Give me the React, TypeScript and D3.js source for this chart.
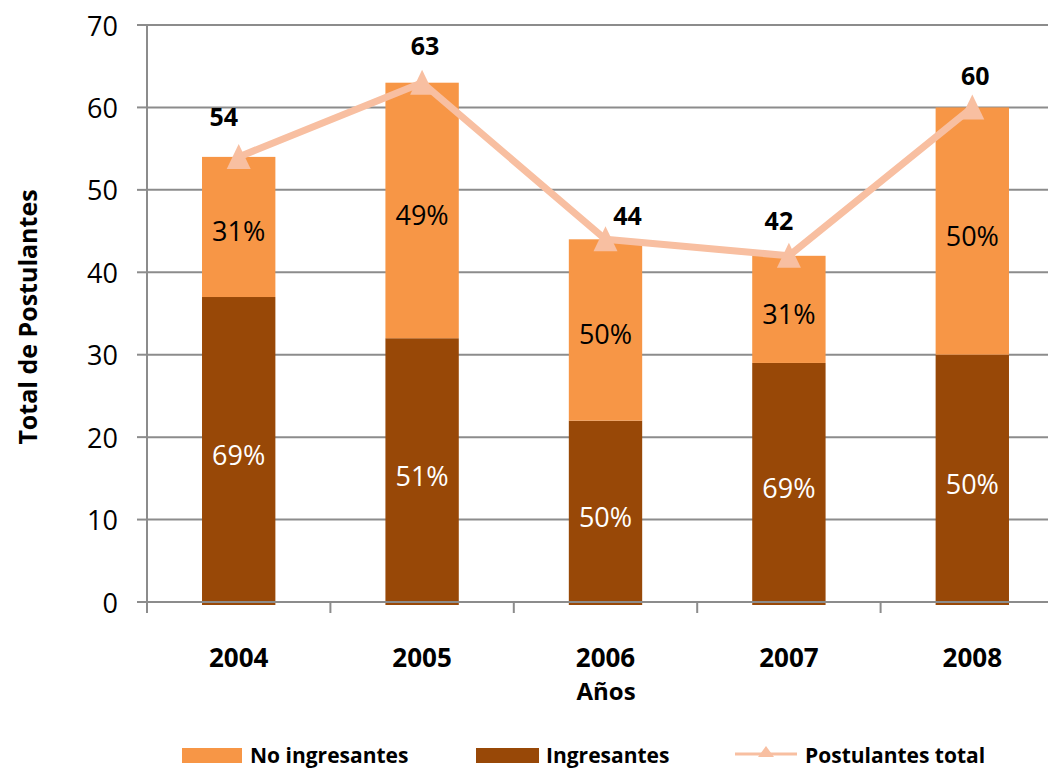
import React from "react";
import * as d3 from "d3";

const years = ["2004", "2005", "2006", "2007", "2008"];
const ingresantes = [37, 32, 22, 29, 30];
const totals = [54, 63, 44, 42, 60];
const pctIngresantes = ["69%", "51%", "50%", "69%", "50%"];
const pctNoIngresantes = ["31%", "49%", "50%", "31%", "50%"];
const yTicks = [0, 10, 20, 30, 40, 50, 60, 70];
const totalLabelOffsets: [number, number][] = [
  [-15, -41],
  [3, -38],
  [22, -24],
  [-10, -36],
  [3, -32],
];

const C_NO = "#F79646";
const C_IN = "#984807";
const C_LINE = "#F8BFA1";
const C_GRID = "#8C8C8C";
const FONT = "'Open Sans', Lato, sans-serif";

export default function App() {
  const W = 1048;
  const H = 769;
  const left = 147;
  const x = d3
    .scaleBand<string>()
    .domain(years)
    .range([left, left + 5 * 183.4])
    .paddingInner(0.6)
    .paddingOuter(0.3);
  const step = x.step();
  const y = d3.scaleLinear().domain([0, 70]).range([602, 25]);
  const cx = (yr: string) => (x(yr) as number) + x.bandwidth() / 2;

  const lineGen = d3
    .line<number>()
    .x((_, i) => cx(years[i]))
    .y((d) => y(d));

  const tri = (px: number, py: number) =>
    `M${px},${py - 13} L${px + 12},${py + 12} L${px - 12},${py + 12} Z`;

  const boundaries = d3.range(0, years.length + 1).map((i) => left + i * step);

  return (
    <svg width={W} height={H} style={{ display: "block", position: "absolute", left: 0, top: 0 }} fontFamily={FONT}>
      <rect width={W} height={H} fill="#fff" />
      {/* gridlines */}
      {yTicks.map((t) => (
        <g key={t}>
          {t > 0 && <line x1={left} x2={W} y1={y(t)} y2={y(t)} stroke={C_GRID} strokeWidth={2} />}
          <line x1={left - 10} x2={left} y1={y(t)} y2={y(t)} stroke={C_GRID} strokeWidth={2} />
          <text x={118} y={y(t)} textAnchor="end" dominantBaseline="central" fontSize={27} fill="#000">
            {t}
          </text>
        </g>
      ))}
      {/* bars */}
      {years.map((yr, i) => (
        <g key={yr}>
          <rect x={x(yr)} width={x.bandwidth()} y={y(ingresantes[i])} height={y(0) - y(ingresantes[i]) + 3} fill={C_IN} />
          <rect x={x(yr)} width={x.bandwidth()} y={y(totals[i])} height={y(ingresantes[i]) - y(totals[i])} fill={C_NO} />
        </g>
      ))}
      {/* axes */}
      <line x1={left} x2={left} y1={y(70)} y2={y(0) + 10} stroke={C_GRID} strokeWidth={2} />
      <line x1={left - 10} x2={W} y1={y(0)} y2={y(0)} stroke={C_GRID} strokeWidth={2} />
      {boundaries.map((b, i) => (
        <line key={i} x1={b} x2={b} y1={y(0)} y2={y(0) + 11} stroke={C_GRID} strokeWidth={2} />
      ))}
      {/* percent labels */}
      {years.map((yr, i) => (
        <g key={"p" + yr} fontSize={27}>
          <text x={cx(yr)} y={y((totals[i] + ingresantes[i]) / 2) + 4} textAnchor="middle" dominantBaseline="central" fill="#000">
            {pctNoIngresantes[i]}
          </text>
          <text x={cx(yr)} y={y(ingresantes[i] / 2) + 5} textAnchor="middle" dominantBaseline="central" fill="#fff">
            {pctIngresantes[i]}
          </text>
        </g>
      ))}
      {/* line */}
      <path d={lineGen(totals) as string} fill="none" stroke={C_LINE} strokeWidth={7} strokeLinejoin="round" />
      {totals.map((v, i) => (
        <path key={"m" + i} d={tri(cx(years[i]), y(v))} fill={C_LINE} />
      ))}
      {/* total labels */}
      {totals.map((v, i) => (
        <text
          key={"t" + i}
          x={cx(years[i]) + totalLabelOffsets[i][0]}
          y={y(v) + totalLabelOffsets[i][1]}
          textAnchor="middle"
          dominantBaseline="central"
          fontSize={25}
          fontWeight="bold"
          fill="#000"
        >
          {v}
        </text>
      ))}
      {/* category labels */}
      {years.map((yr) => (
        <text key={"c" + yr} x={cx(yr)} y={657} textAnchor="middle" dominantBaseline="central" fontSize={26} fontWeight="bold">
          {yr}
        </text>
      ))}
      <text x={606} y={690} textAnchor="middle" dominantBaseline="central" fontSize={24} fontWeight="bold">
        Años
      </text>
      <text
        transform={`translate(27,${317}) rotate(-90)`}
        textAnchor="middle"
        dominantBaseline="central"
        fontSize={25}
        fontWeight="bold"
      >
        Total de Postulantes
      </text>
      {/* legend */}
      <g fontSize={21} fontWeight="bold">
        <rect x={182} y={748} width={60} height={15} fill={C_NO} />
        <text x={250} y={755} dominantBaseline="central">No ingresantes</text>
        <rect x={476} y={748} width={63} height={15} fill={C_IN} />
        <text x={546} y={755} dominantBaseline="central">Ingresantes</text>
        <line x1={735} x2={797} y1={754} y2={754} stroke={C_LINE} strokeWidth={3} />
        <path d={`M766,746 L774,757 L758,757 Z`} fill={C_LINE} />
        <text x={805} y={755} dominantBaseline="central">Postulantes total</text>
      </g>
    </svg>
  );
}
